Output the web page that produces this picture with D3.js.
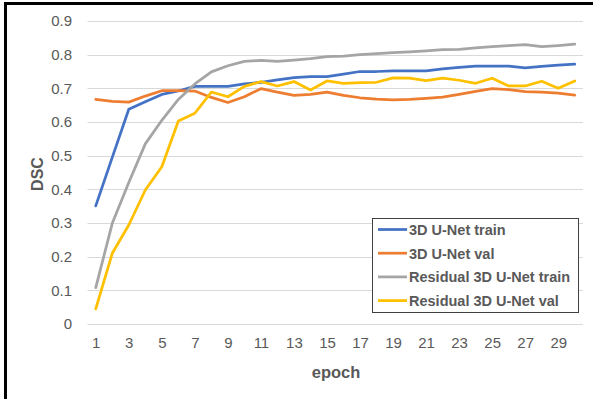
<!DOCTYPE html>
<html>
<head>
<meta charset="utf-8">
<script src="https://cdn.jsdelivr.net/npm/d3@7"></script>
<style>
  html, body { margin: 0; padding: 0; background: #fff; }
  svg { display: block; }
</style>
</head>
<body>
<svg id="chart" width="593" height="399"></svg>
<script>
const epochs = d3.range(1, 31);
const xTickLabels = [1, 3, 5, 7, 9, 11, 13, 15, 17, 19, 21, 23, 25, 27, 29];
const yTickValues = [0, 0.1, 0.2, 0.3, 0.4, 0.5, 0.6, 0.7, 0.8, 0.9];
const seriesNames = ["3D U-Net train", "3D U-Net val", "Residual 3D U-Net train", "Residual 3D U-Net val"];
const seriesColors = ["#4472C4", "#ED7D31", "#A5A5A5", "#FFC000"];

const unetTrain = [0.351, 0.495, 0.638, 0.660, 0.682, 0.692, 0.706, 0.706, 0.706, 0.713,
                   0.718, 0.725, 0.732, 0.735, 0.735, 0.742, 0.750, 0.750, 0.752, 0.752,
                   0.752, 0.758, 0.762, 0.766, 0.766, 0.766, 0.761, 0.765, 0.769, 0.772];
const unetVal = [0.667, 0.661, 0.659, 0.677, 0.693, 0.693, 0.692, 0.673, 0.658, 0.675,
                 0.699, 0.689, 0.679, 0.682, 0.689, 0.679, 0.672, 0.668, 0.666, 0.667,
                 0.670, 0.674, 0.682, 0.691, 0.699, 0.696, 0.690, 0.689, 0.686, 0.680];
const resTrain = [0.108, 0.299, 0.420, 0.535, 0.605, 0.667, 0.713, 0.749, 0.767, 0.780,
                  0.783, 0.780, 0.784, 0.788, 0.794, 0.796, 0.800, 0.803, 0.806, 0.808,
                  0.811, 0.815, 0.816, 0.820, 0.824, 0.827, 0.830, 0.824, 0.827, 0.831];
const resVal = [0.045, 0.210, 0.294, 0.398, 0.467, 0.603, 0.626, 0.689, 0.675, 0.706,
                0.720, 0.707, 0.720, 0.695, 0.722, 0.715, 0.717, 0.718, 0.731, 0.730,
                0.723, 0.730, 0.724, 0.715, 0.730, 0.707, 0.707, 0.721, 0.700, 0.722];

const allSeries = [unetTrain, unetVal, resTrain, resVal];

const svg = d3.select("#chart");
const textColor = "#595959";
const font = "'Liberation Sans', Arial, sans-serif";

// outer border (top & left visible)
svg.append("rect")
  .attr("x", 5.5).attr("y", 3.5)
  .attr("width", 620).attr("height", 420)
  .attr("fill", "none").attr("stroke", "#000").attr("stroke-width", 3);

const x = d3.scalePoint().domain(epochs).range([87.5, 583]).padding(0.5);
const y = d3.scaleLinear().domain([0, 0.9]).range([324, 21]);

// gridlines
svg.append("g")
  .selectAll("line")
  .data(yTickValues)
  .join("line")
  .attr("x1", 87.5).attr("x2", 583)
  .attr("y1", d => Math.round(y(d)) + 0.5).attr("y2", d => Math.round(y(d)) + 0.5)
  .attr("stroke", "#d9d9d9").attr("stroke-width", 1);

// y axis
const yAxis = d3.axisLeft(y).tickValues(yTickValues).tickSize(0).tickPadding(0)
  .tickFormat(d => d === 0 ? "0" : d3.format(".1f")(d));
const gy = svg.append("g").attr("transform", "translate(72,0)").call(yAxis);
gy.select(".domain").remove();
gy.selectAll("text").attr("fill", textColor).style("font-family", font).style("font-size", "15px");

// x axis
const xAxis = d3.axisBottom(x).tickValues(xTickLabels).tickSize(0).tickPadding(0);
const gx = svg.append("g").attr("transform", "translate(0,337)").call(xAxis);
gx.select(".domain").remove();
gx.selectAll("text").attr("fill", textColor).style("font-family", font).style("font-size", "15px");

// lines
const line = d3.line().x((d, i) => x(epochs[i])).y(d => y(d));
svg.append("g")
  .selectAll("path")
  .data(allSeries)
  .join("path")
  .attr("d", d => line(d))
  .attr("fill", "none")
  .attr("stroke", (d, i) => seriesColors[i])
  .attr("stroke-width", 2.75)
  .attr("stroke-linejoin", "round")
  .attr("stroke-linecap", "round");

// axis titles
svg.append("text")
  .attr("transform", "translate(43,174) rotate(-90)")
  .attr("text-anchor", "middle")
  .attr("fill", textColor)
  .style("font-family", font).style("font-size", "16px").style("font-weight", "bold")
  .text("DSC");

svg.append("text")
  .attr("x", 336).attr("y", 378)
  .attr("text-anchor", "middle")
  .attr("fill", textColor)
  .style("font-family", font).style("font-size", "16.5px").style("font-weight", "bold")
  .text("epoch");

// legend
const legend = svg.append("g");
legend.append("rect")
  .attr("x", 372.5).attr("y", 218.5).attr("width", 206).attr("height", 94)
  .attr("fill", "#fff").attr("stroke", "#404040").attr("stroke-width", 1);
const rows = legend.selectAll("g.row")
  .data(seriesNames)
  .join("g").attr("class", "row")
  .attr("transform", (d, i) => `translate(0,${229.5 + i * 23.7})`);
rows.append("line")
  .attr("x1", 378).attr("x2", 407).attr("y1", 0).attr("y2", 0)
  .attr("stroke", (d, i) => seriesColors[i]).attr("stroke-width", 2.75);
rows.append("text")
  .attr("x", 409).attr("y", 5.5)
  .attr("fill", textColor)
  .style("font-family", font).style("font-size", "14.5px").style("font-weight", "bold")
  .text(d => d);
</script>
</body>
</html>
